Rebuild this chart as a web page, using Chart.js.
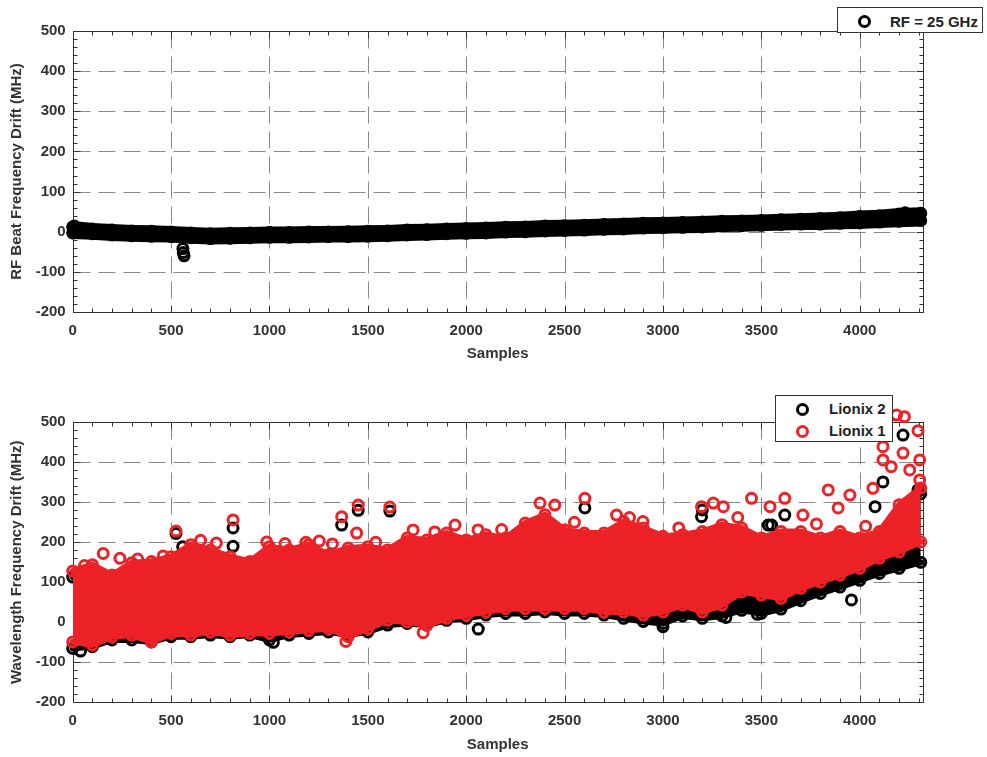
<!DOCTYPE html>
<html>
<head>
<meta charset="utf-8">
<script src="https://cdn.jsdelivr.net/npm/chart.js@4.4.0/dist/chart.umd.min.js"></script>
<style>
  body { margin: 0; background: #fff; }
  #page { position: relative; width: 987px; height: 757px; overflow: hidden; font-family: "Liberation Sans", Arial, sans-serif; }
  canvas { position: absolute; left: 0; }
  .legend { position: absolute; box-sizing: border-box; border: 1px solid #333; background: #fff; font-weight: bold; font-size: 15px; color: #222; }
  .item { position: absolute; left: 0; right: 0; height: 20px; line-height: 20px; }
  .ring { position: absolute; top: 3.5px; width: 7px; height: 7px; border: 3px solid; border-radius: 50%; }
  .label { position: absolute; top: 0; white-space: nowrap; }
</style>
</head>
<body>
<div id="page">
  <canvas id="rf" width="987" height="380" style="top:0"></canvas>
  <canvas id="wl" width="987" height="377" style="top:380px"></canvas>

  <div class="legend" style="left:837px; top:7px; width:146px; height:26px;">
    <div class="item" style="top:3.7px"><span class="ring" style="left:19.5px; border-color:#000"></span><span class="label" style="left:52px">RF = 25 GHz</span></div>
  </div>
  <div class="legend" style="left:775px; top:395px; width:118px; height:47px;">
    <div class="item" style="top:3.3px"><span class="ring" style="left:19.5px; border-color:#000"></span><span class="label" style="left:53px">Lionix 2</span></div>
    <div class="item" style="top:25px"><span class="ring" style="left:19.5px; border-color:#ec2227"></span><span class="label" style="left:53px">Lionix 1</span></div>
  </div>
</div>

<script>
// sample positions where the point cloud edges were read
const samples = [0, 100, 200, 300, 400, 500, 600, 700, 800, 900, 1000, 1100, 1200, 1300, 1400, 1500, 1600, 1700, 1800, 1900, 2000, 2100,
  2200, 2300, 2400, 2500, 2600, 2700, 2800, 2900, 3000, 3100, 3200, 3300, 3400, 3500, 3600, 3700, 3800, 3900, 4000, 4100, 4200, 4310];

// RF beat frequency drift (MHz), lower / upper edge of the cloud
const rfLow = [-3, -5, -8, -10, -11, -12, -15, -17, -16, -15, -14, -14, -13, -12, -12, -11, -10, -8, -7, -5, -4, -3,
  -1, 0, 2, 3, 4, 6, 7, 9, 10, 11, 12, 14, 15, 16, 18, 19, 19, 21, 22, 24, 26, 28];
const rfHigh = [12, 7, 4, 2, 1, -1, -3, -5, -4, -3, -2, -2, -1, -1, 0, 1, 2, 4, 5, 7, 8, 9,
  11, 12, 14, 15, 16, 18, 19, 21, 22, 23, 24, 26, 27, 28, 30, 31, 33, 35, 38, 40, 44, 46];
const rfOutliers = [[560, -42], [562, -52], [566, -60], [8, 14], [4230, 47]];

// Wavelength frequency drift (MHz)
const lionix1Low = [-49, -57, -36, -32, -49, -28, -32, -24, -32, -28, -28, -24, -20, -16, -36, -16, 5, 1, -7, 10, 18, 26,
  34, 34, 34, 34, 34, 26, 26, 18, 26, 43, 26, 43, 76, 68, 60, 85, 101, 118, 135, 160, 176, 201];
const lionix1High = [128, 144, 118, 149, 152, 164, 194, 181, 164, 152, 189, 181, 194, 169, 186, 189, 181, 211, 206, 223, 206, 219,
  211, 248, 269, 231, 223, 223, 252, 236, 215, 219, 227, 244, 236, 211, 227, 227, 211, 227, 211, 227, 294, 336];
const lionix1Outliers = [[155, 172], [525, 228], [815, 256], [986, 201], [1079, 197], [1185, 200], [1253, 203],
  [1367, 264], [1451, 293], [1612, 288], [1443, 223], [1730, 231], [1943, 243], [2060, 231], [1388, -48], [1781, -26],
  [2603, 310], [2375, 298], [2450, 293], [2764, 268], [2898, 252], [3196, 289], [3256, 298], [3307, 289], [3450, 310],
  [3544, 289], [3619, 310], [3711, 268], [3840, 331], [3890, 286], [3950, 318], [4067, 335], [4118, 406], [4118, 439],
  [4187, 518], [4227, 514], [4296, 479], [4305, 406], [4220, 423], [4254, 381], [4305, 356], [4160, 389],
  [60, 142], [240, 160], [330, 158], [460, 166], [650, 205], [730, 198], [1320, 196], [1540, 200], [1840, 226],
  [2180, 232], [2550, 250], [2830, 262], [3080, 236], [3380, 262], [3780, 246], [4030, 240]];

const lionix2Low = [-65, -61, -44, -44, -49, -36, -36, -32, -36, -32, -44, -32, -28, -24, -32, -24, -7, -3, -7, 5, 10, 18,
  22, 22, 26, 22, 22, 18, 10, 2, -3, 16, 10, 16, 30, 22, 33, 54, 72, 88, 105, 122, 135, 150];
const lionix2High = [113, 129, 103, 134, 137, 149, 179, 166, 149, 137, 174, 166, 179, 154, 171, 174, 166, 196, 191, 208, 191, 204,
  196, 233, 254, 216, 208, 208, 237, 221, 200, 204, 212, 229, 221, 196, 212, 212, 196, 212, 196, 212, 279, 321];
const lionix2Outliers = [[525, 222], [559, 189], [815, 236], [815, 190], [1185, 174], [1367, 243], [1451, 280], [1612, 278],
  [2061, -17], [2603, 286], [3000, -11], [3196, 264], [3200, 281], [3535, 243], [3552, 243], [3619, 268], [3958, 56],
  [4078, 289], [4118, 351], [4220, 468], [4296, 331], [40, -72], [1020, -50], [3320, 12], [3480, 20]];

const xTicks = [0, 500, 1000, 1500, 2000, 2500, 3000, 3500, 4000];
const yTicks = [-200, -100, 0, 100, 200, 300, 400, 500];
const xGrid = [500, 1000, 1500, 2000, 2500, 3000, 3500, 4000];
const yGrid = [-100, 0, 100, 200, 300, 400];

const RED = '#ec2227';
const BLACK = '#000000';
const font = { family: '"Liberation Sans", Arial, sans-serif', size: 15, weight: 'bold' };

const pts = (xs, ys) => xs.map((x, i) => ({ x, y: ys[i] }));
const pairs = list => list.map(([x, y]) => ({ x, y }));

function edge(values, color, fill, width) {
  return {
    data: pts(samples, values),
    showLine: true,
    fill: fill,
    borderColor: color,
    backgroundColor: color,
    borderWidth: width,
    borderJoinStyle: 'round',
    borderCapStyle: 'round',
    pointRadius: 5,
    pointBorderWidth: 3,
    pointBorderColor: color,
    pointBackgroundColor: 'rgba(0,0,0,0)',
    clip: false
  };
}

function scatter(list, color) {
  return {
    data: pairs(list),
    showLine: false,
    pointRadius: 5,
    pointBorderWidth: 3,
    pointBorderColor: color,
    pointBackgroundColor: 'rgba(0,0,0,0)',
    clip: false
  };
}

// dashed grid, frame and minor ticks like the original figure
const framePlugin = {
  id: 'frame',
  beforeDatasetsDraw(chart) {
    const { ctx, chartArea: a, scales: { x, y } } = chart;
    const L = Math.round(a.left) + 0.5, R = Math.round(a.right) + 0.5;
    const T = Math.round(a.top) + 0.5, B = Math.round(a.bottom) + 0.5;
    const line = (x1, y1, x2, y2) => { ctx.beginPath(); ctx.moveTo(x1, y1); ctx.lineTo(x2, y2); ctx.stroke(); };
    ctx.save();
    ctx.lineWidth = 1;
    ctx.strokeStyle = '#8a8a8a';
    ctx.setLineDash([17, 8]);
    xGrid.forEach(v => { const p = Math.round(x.getPixelForValue(v)) + 0.5; line(p, T, p, B); });
    yGrid.forEach(v => { const p = Math.round(y.getPixelForValue(v)) + 0.5; line(L, p, R, p); });
    ctx.setLineDash([]);
    ctx.strokeStyle = '#333';
    for (let v = 0; v <= x.max; v += 100) {
      const p = Math.round(x.getPixelForValue(v)) + 0.5;
      const len = v % 500 === 0 ? 7 : 4;
      line(p, B, p, B - len);
      line(p, T, p, T + len);
    }
    for (let v = y.min; v <= y.max; v += 20) {
      const p = Math.round(y.getPixelForValue(v)) + 0.5;
      const len = v % 100 === 0 ? 7 : 4;
      line(L, p, L + len, p);
      line(R, p, R - len, p);
    }
    ctx.strokeRect(L, T, R - L, B - T);
    ctx.restore();
  }
};

function axes(yTitle, xHeight) {
  return {
    x: {
      type: 'linear', min: 0, max: 4320,
      afterBuildTicks: s => { s.ticks = xTicks.map(v => ({ value: v })); },
      afterFit: s => { s.height = xHeight; },
      grid: { display: false, drawTicks: false }, border: { display: false },
      ticks: { color: '#333', padding: 10, maxRotation: 0, autoSkip: false, font, callback: v => String(v) },
      title: { display: true, text: 'Samples', color: '#333', padding: { top: 0, bottom: 0 }, font }
    },
    y: {
      type: 'linear', min: -200, max: 500,
      afterBuildTicks: s => { s.ticks = yTicks.map(v => ({ value: v })); },
      afterFit: s => { s.width = 72.7; },
      grid: { display: false, drawTicks: false }, border: { display: false },
      ticks: { color: '#333', padding: 7, autoSkip: false, font, callback: v => String(v) },
      title: { display: true, text: yTitle, color: '#333', padding: { top: 8, bottom: 0 }, font }
    }
  };
}

const common = {
  responsive: false,
  animation: false,
  events: [],
  devicePixelRatio: 1,
  plugins: { legend: { display: false }, tooltip: { enabled: false } }
};

new Chart(document.getElementById('rf'), {
  type: 'scatter',
  data: {
    datasets: [
      scatter(rfOutliers, BLACK),
      edge(rfHigh, BLACK, false, 12),
      edge(rfLow, BLACK, '-1', 12)
    ]
  },
  options: Object.assign({}, common, {
    layout: { padding: { top: 31, right: 64.3, bottom: 17, left: 0 } },
    scales: axes('RF Beat Frequency Drift (MHz)', 51)
  }),
  plugins: [framePlugin]
});

// datasets are painted last-to-first, so Lionix 1 (red) ends up on top
new Chart(document.getElementById('wl'), {
  type: 'scatter',
  data: {
    datasets: [
      scatter(lionix1Outliers, RED),
      edge(lionix1High, RED, false, 6),
      edge(lionix1Low, RED, '-1', 6),
      scatter(lionix2Outliers, BLACK),
      edge(lionix2High, BLACK, false, 6),
      edge(lionix2Low, BLACK, '-1', 6)
    ]
  },
  options: Object.assign({}, common, {
    layout: { padding: { top: 42.3, right: 64.3, bottom: 3, left: 0 } },
    scales: axes('Wavelength Frequency Drift (MHz)', 51.7)
  }),
  plugins: [framePlugin]
});
</script>
</body>
</html>
